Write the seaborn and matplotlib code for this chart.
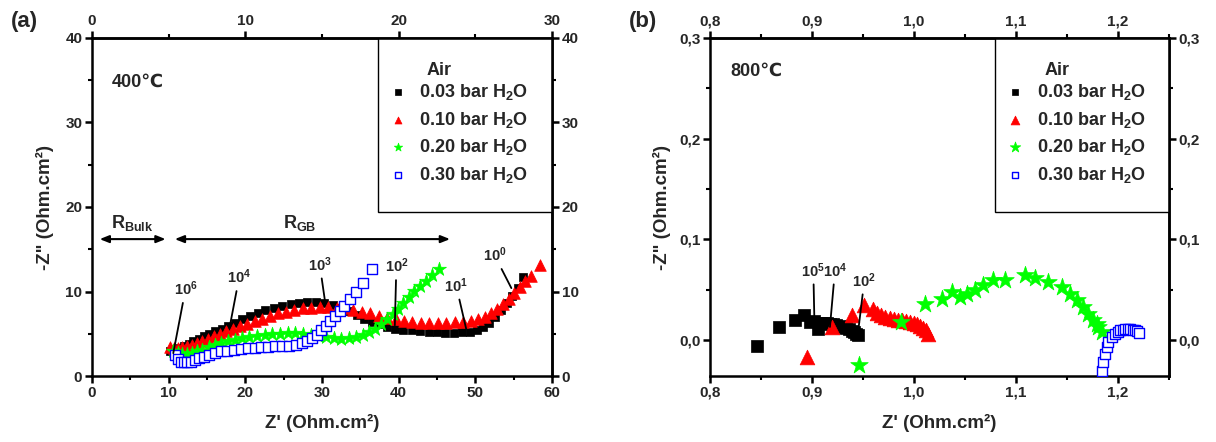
import matplotlib
matplotlib.use('Agg')
import matplotlib.pyplot as plt
import seaborn as sns
from matplotlib.ticker import MultipleLocator, FuncFormatter
from matplotlib.patches import Rectangle

# ---------------- data : panel (a) 400 C ----------------
labels = ['0.03 bar H$_2$O', '0.10 bar H$_2$O', '0.20 bar H$_2$O', '0.30 bar H$_2$O']

a_x_003 = [10.2, 10.6, 11.0, 11.5, 12.0, 12.6, 13.2, 13.9, 14.6, 15.3, 16.1, 16.9, 17.8, 18.7, 19.6,
           20.6, 21.6, 22.6, 23.7, 24.8, 25.9, 27.0, 28.1, 29.2, 30.3, 31.4, 32.5, 33.5, 34.5, 35.5,
           36.5, 37.5, 38.5, 39.5, 40.6, 41.7, 42.8, 43.9, 45.0, 46.1, 47.2, 48.3, 49.3, 50.2, 51.0,
           51.8, 52.6, 53.4, 54.1, 54.8, 55.5, 56.2]
a_y_003 = [2.9, 3.0, 3.1, 3.3, 3.5, 3.8, 4.1, 4.4, 4.7, 5.0, 5.3, 5.6, 5.9, 6.3, 6.7,
           7.1, 7.5, 7.8, 8.1, 8.3, 8.5, 8.6, 8.7, 8.7, 8.6, 8.4, 8.1, 7.7, 7.2, 6.8,
           6.4, 6.1, 5.8, 5.6, 5.5, 5.4, 5.3, 5.2, 5.15, 5.1, 5.1, 5.15, 5.25, 5.45, 5.8,
           6.3, 7.0, 7.8, 8.6, 9.5, 10.4, 11.7]

a_x_010 = [10.2, 10.7, 11.2, 11.8, 12.4, 13.0, 13.7, 14.4, 15.1, 15.9, 16.7, 17.5, 18.4, 19.3, 20.2,
           21.2, 22.2, 23.2, 24.2, 25.3, 26.4, 27.5, 28.6, 29.7, 30.8, 31.9, 33.0, 34.1, 35.2, 36.3,
           37.4, 38.5, 39.6, 40.7, 41.8, 42.9, 44.0, 45.1, 46.2, 47.3, 48.4, 49.4, 50.3, 51.2, 52.0,
           52.8, 53.6, 54.4, 55.1, 55.8, 56.5, 57.3, 58.4]
a_y_010 = [3.4, 3.3, 3.3, 3.4, 3.5, 3.7, 3.9, 4.1, 4.4, 4.7, 5.0, 5.3, 5.6, 5.9, 6.2,
           6.5, 6.8, 7.1, 7.4, 7.6, 7.8, 8.0, 8.1, 8.2, 8.2, 8.1, 8.0, 7.8, 7.6, 7.4,
           7.1, 6.9, 6.7, 6.5, 6.4, 6.3, 6.3, 6.3, 6.3, 6.35, 6.4, 6.5, 6.7, 7.0, 7.4,
           7.9, 8.5, 9.1, 9.8, 10.5, 11.2, 11.8, 13.1]

a_x_020 = [10.6, 11.2, 11.8, 12.4, 13.0, 13.7, 14.4, 15.2, 16.0, 16.8, 17.7, 18.6, 19.5, 20.5, 21.5,
           22.5, 23.5, 24.5, 25.5, 26.5, 27.5, 28.5, 29.5, 30.5, 31.5, 32.5, 33.5, 34.4, 35.3, 36.1,
           36.9, 37.7, 38.5, 39.2, 39.9, 40.6, 41.3, 42.0, 42.8, 43.6, 44.4, 45.2]
a_y_020 = [2.9, 2.7, 2.6, 2.6, 2.7, 2.9, 3.1, 3.4, 3.7, 3.9, 4.1, 4.3, 4.5, 4.6, 4.75,
           4.85, 4.95, 5.0, 5.05, 5.05, 5.0, 4.9, 4.75, 4.6, 4.45, 4.4, 4.45, 4.6, 4.85, 5.2,
           5.6, 6.1, 6.7, 7.3, 7.9, 8.6, 9.4, 10.1, 10.6, 11.2, 11.9, 12.7]

a_x_030 = [10.8, 11.2, 11.6, 12.0, 12.4, 12.9, 13.4, 14.0, 14.6, 15.3, 16.0, 16.8, 17.6, 18.5, 19.4,
           20.3, 21.2, 22.1, 23.0, 23.9, 24.8, 25.7, 26.6, 27.4, 28.1, 28.7, 29.3, 29.9, 30.5, 31.1,
           31.7, 32.3, 32.9, 33.6, 34.4, 35.3, 36.5]
a_y_030 = [2.5, 2.0, 1.7, 1.6, 1.6, 1.7, 1.9, 2.1, 2.3, 2.5, 2.7, 2.9, 3.0, 3.1, 3.2,
           3.3, 3.35, 3.4, 3.45, 3.5, 3.55, 3.6, 3.7, 3.85, 4.1, 4.5, 4.9, 5.4, 5.9, 6.5,
           7.1, 7.7, 8.3, 9.1, 10.0, 11.0, 12.7]

a_freq_labels = ['10$^6$', '10$^4$', '10$^3$', '10$^2$', '10$^1$', '10$^0$']
a_freq_text = [(12.2, 10.3), (19.2, 11.7), (29.7, 13.2), (39.7, 13.0), (47.5, 10.7), (52.5, 14.3)]
a_freq_point = [(10.6, 2.7), (18.0, 6.0), (30.4, 8.8), (39.5, 6.0), (48.8, 5.6), (54.7, 10.4)]

# ---------------- data : panel (b) 800 C ----------------
b_x_003 = [0.846, 0.868, 0.883, 0.8925, 0.898, 0.902, 0.906, 0.909, 0.912, 0.915, 0.918, 0.921,
           0.924, 0.927, 0.930, 0.933, 0.936, 0.939, 0.941, 0.943, 0.945]
b_y_003 = [-0.006, 0.013, 0.020, 0.025, 0.018, 0.019, 0.011, 0.017, 0.0175, 0.017, 0.0165, 0.016,
           0.015, 0.0145, 0.0135, 0.0125, 0.011, 0.0095, 0.008, 0.0065, 0.0055]

b_x_010 = [0.8948, 0.9193, 0.9389, 0.9513, 0.9601, 0.9640, 0.9680, 0.9720, 0.9760, 0.9800, 0.9840,
           0.9880, 0.9920, 0.9960, 1.0000, 1.0030, 1.0060, 1.0090, 1.0115, 1.0141]
b_y_010 = [-0.0165, 0.0132, 0.0248, 0.0347, 0.0314, 0.0270, 0.0250, 0.0235, 0.0222, 0.0212, 0.0205,
           0.0198, 0.0192, 0.0185, 0.0175, 0.0160, 0.0145, 0.0125, 0.0100, 0.0066]

b_x_020 = [0.9464, 0.9873, 1.0108, 1.0270, 1.0370, 1.0450, 1.0517, 1.0598, 1.0680, 1.0778, 1.0892,
           1.1088, 1.1186, 1.1317, 1.1448, 1.1530, 1.1595, 1.1660, 1.1710, 1.1758, 1.1790, 1.1807,
           1.1840]
b_y_020 = [-0.0248, 0.0182, 0.0356, 0.0413, 0.0478, 0.0429, 0.0462, 0.0495, 0.0545, 0.0594, 0.0594,
           0.0644, 0.0620, 0.0578, 0.0528, 0.0462, 0.0396, 0.0330, 0.0264, 0.0198, 0.0165, 0.0132,
           0.0083]

b_x_030 = [1.1840, 1.1856, 1.1873, 1.1890, 1.1905, 1.1938, 1.1970, 1.2000, 1.2020, 1.2045, 1.2069,
           1.2095, 1.2118, 1.2145, 1.2167, 1.2190, 1.2209]
b_y_030 = [-0.0304, -0.0215, -0.0132, -0.0066, -0.0017, 0.0033, 0.0066, 0.0085, 0.0099, 0.0105, 0.0109,
           0.0110, 0.0109, 0.0105, 0.0099, 0.0088, 0.0073]

b_freq_labels = ['10$^5$', '10$^4$', '10$^2$']
b_freq_text = [(0.9013, 0.0693), (0.9225, 0.0693), (0.9513, 0.0594)]
b_freq_point = [(0.9023, 0.0215), (0.9176, 0.0132), (0.9454, 0.0099)]

# ---------------- style ----------------
sns.set_theme(style='ticks')
plt.rcParams['font.family'] = ['Liberation Sans', 'DejaVu Sans']
plt.rcParams['font.weight'] = 'bold'
plt.rcParams['axes.labelweight'] = 'bold'
plt.rcParams['mathtext.fontset'] = 'custom'
plt.rcParams['mathtext.rm'] = 'Liberation Sans:bold'
plt.rcParams['mathtext.it'] = 'Liberation Sans:bold'
plt.rcParams['mathtext.bf'] = 'Liberation Sans:bold'
plt.rcParams['mathtext.sf'] = 'Liberation Sans:bold'
plt.rcParams['mathtext.default'] = 'rm'
plt.rcParams['axes.linewidth'] = 1.8
plt.rcParams['axes.edgecolor'] = 'black'

fig = plt.figure(figsize=(12.16, 4.42), dpi=100)
axA = fig.add_axes([92 / 1216, 66 / 442, 460 / 1216, 338 / 442])
axB = fig.add_axes([710 / 1216, 66 / 442, 459 / 1216, 338 / 442])

TICK_FS = 11
comma = FuncFormatter(lambda v, p: f"{v:.1f}".replace('.', ','))


def style_ticks(axis_obj, which_axis, major, minor, fmt=None):
    if which_axis == 'x':
        axis_obj.xaxis.set_major_locator(MultipleLocator(major))
        axis_obj.xaxis.set_minor_locator(MultipleLocator(minor))
        if fmt is not None:
            axis_obj.xaxis.set_major_formatter(fmt)
    else:
        axis_obj.yaxis.set_major_locator(MultipleLocator(major))
        axis_obj.yaxis.set_minor_locator(MultipleLocator(minor))
        if fmt is not None:
            axis_obj.yaxis.set_major_formatter(fmt)
    axis_obj.tick_params(which='major', direction='out', length=5, width=1.8,
                         labelsize=TICK_FS, color='black', pad=2)
    axis_obj.tick_params(which='minor', direction='out', length=3, width=1.5, color='black')
    for lab in (axis_obj.get_xticklabels() + axis_obj.get_yticklabels()):
        lab.set_fontweight('bold')


def hide_empty_labels(sec):
    for axis in (sec.xaxis, sec.yaxis):
        axis.label.set_visible(False)
        axis.offsetText.set_visible(False)
    sec.title.set_visible(False)
    sec._left_title.set_visible(False)
    sec._right_title.set_visible(False)


def draw_series(ax, xs, ys, big):
    k = 1.0 if not big else 1.6
    sns.scatterplot(x=xs[0], y=ys[0], ax=ax, marker='s', color='black', edgecolor='black',
                    s=40 * k, linewidth=0.5, label=labels[0], zorder=3)
    sns.scatterplot(x=xs[1], y=ys[1], ax=ax, marker='^', color='#ff0000', edgecolor='#ff0000',
                    s=70 * k, linewidth=0.5, label=labels[1], zorder=3)
    sns.scatterplot(x=xs[2], y=ys[2], ax=ax, marker='*', color='#00ff00', edgecolor='#00ff00',
                    s=110 * k, linewidth=0.5, label=labels[2], zorder=3)
    sns.scatterplot(x=xs[3], y=ys[3], ax=ax, marker='s', color='white', edgecolor='#0000ff',
                    s=55 * (1.0 if not big else 0.9), linewidth=1.0, label=labels[3], zorder=3)


def legend_box(ax):
    ax.add_patch(Rectangle((0.622, 0.485), 0.378, 0.515, transform=ax.transAxes,
                           facecolor='white', edgecolor='black', lw=1.0, zorder=1))
    ax.text(0.728, 0.905, 'Air', transform=ax.transAxes, fontsize=13, fontweight='bold',
            ha='left', va='center')
    leg = ax.legend(loc='upper left', bbox_to_anchor=(0.645, 0.87), frameon=False,
                    fontsize=13, handlelength=1.0, handletextpad=0.7, labelspacing=0.42,
                    markerscale=0.6, borderpad=0, borderaxespad=0)
    for t in leg.get_texts():
        t.set_fontweight('bold')


# ---------------- panel (a) ----------------
draw_series(axA, [a_x_003, a_x_010, a_x_020, a_x_030], [a_y_003, a_y_010, a_y_020, a_y_030], False)
axA.set_xlim(0, 60)
axA.set_ylim(0, 40)
style_ticks(axA, 'x', 10, 5)
style_ticks(axA, 'y', 10, 5)
axA.set_xlabel("Z' (Ohm.cm²)", fontsize=13.5, fontweight='bold', labelpad=10)
axA.set_ylabel('-Z" (Ohm.cm²)', fontsize=13.5, fontweight='bold', labelpad=8)
topA = axA.secondary_xaxis('top', functions=(lambda v: v / 2, lambda v: v * 2))
style_ticks(topA, 'x', 10, 5)
hide_empty_labels(topA)
rightA = axA.secondary_yaxis('right')
style_ticks(rightA, 'y', 10, 5)
hide_empty_labels(rightA)
legend_box(axA)
axA.text(2.6, 34.8, '400℃', fontsize=13, fontweight='bold', ha='left', va='center')

for lab, tp, pt in zip(a_freq_labels, a_freq_text, a_freq_point):
    axA.annotate(lab, xy=pt, xytext=tp, fontsize=10.5, fontweight='bold', ha='center', va='center',
                 arrowprops=dict(arrowstyle='-', lw=1.3, color='black', shrinkA=1, shrinkB=0))

arrow_kw = dict(arrowstyle='<|-|>,head_length=0.45,head_width=0.18', lw=1.5, color='black',
                shrinkA=0, shrinkB=0)
axA.annotate('', xy=(1.0, 16.2), xytext=(9.6, 16.2), arrowprops=arrow_kw)
axA.annotate('', xy=(10.8, 16.2), xytext=(46.7, 16.2), arrowprops=arrow_kw)
axA.text(5.3, 18.1, 'R$_{Bulk}$', fontsize=13, ha='center', va='center')
axA.text(27.1, 18.1, 'R$_{GB}$', fontsize=13, ha='center', va='center')

# ---------------- panel (b) ----------------
draw_series(axB, [b_x_003, b_x_010, b_x_020, b_x_030], [b_y_003, b_y_010, b_y_020, b_y_030], True)
axB.set_xlim(0.8, 1.25)
axB.set_ylim(-0.0355, 0.3)
style_ticks(axB, 'x', 0.1, 0.05, comma)
style_ticks(axB, 'y', 0.1, 0.05, comma)
axB.set_xlabel("Z' (Ohm.cm²)", fontsize=13.5, fontweight='bold', labelpad=10)
axB.set_ylabel('-Z" (Ohm.cm²)', fontsize=13.5, fontweight='bold', labelpad=6)
topB = axB.secondary_xaxis('top')
style_ticks(topB, 'x', 0.1, 0.05, comma)
hide_empty_labels(topB)
rightB = axB.secondary_yaxis('right')
style_ticks(rightB, 'y', 0.1, 0.05, comma)
hide_empty_labels(rightB)
legend_box(axB)
axB.text(0.8196, 0.267, '800℃', fontsize=13, fontweight='bold', ha='left', va='center')

for lab, tp, pt in zip(b_freq_labels, b_freq_text, b_freq_point):
    axB.annotate(lab, xy=pt, xytext=tp, fontsize=10.5, fontweight='bold', ha='center', va='center',
                 arrowprops=dict(arrowstyle='-', lw=1.3, color='black', shrinkA=1, shrinkB=0))

fig.text(24 / 1216, 1 - 21 / 442, '(a)', fontsize=16, fontweight='bold', ha='center', va='center')
fig.text(643 / 1216, 1 - 21 / 442, '(b)', fontsize=16, fontweight='bold', ha='center', va='center')

fig.savefig('out.png', dpi=100)
